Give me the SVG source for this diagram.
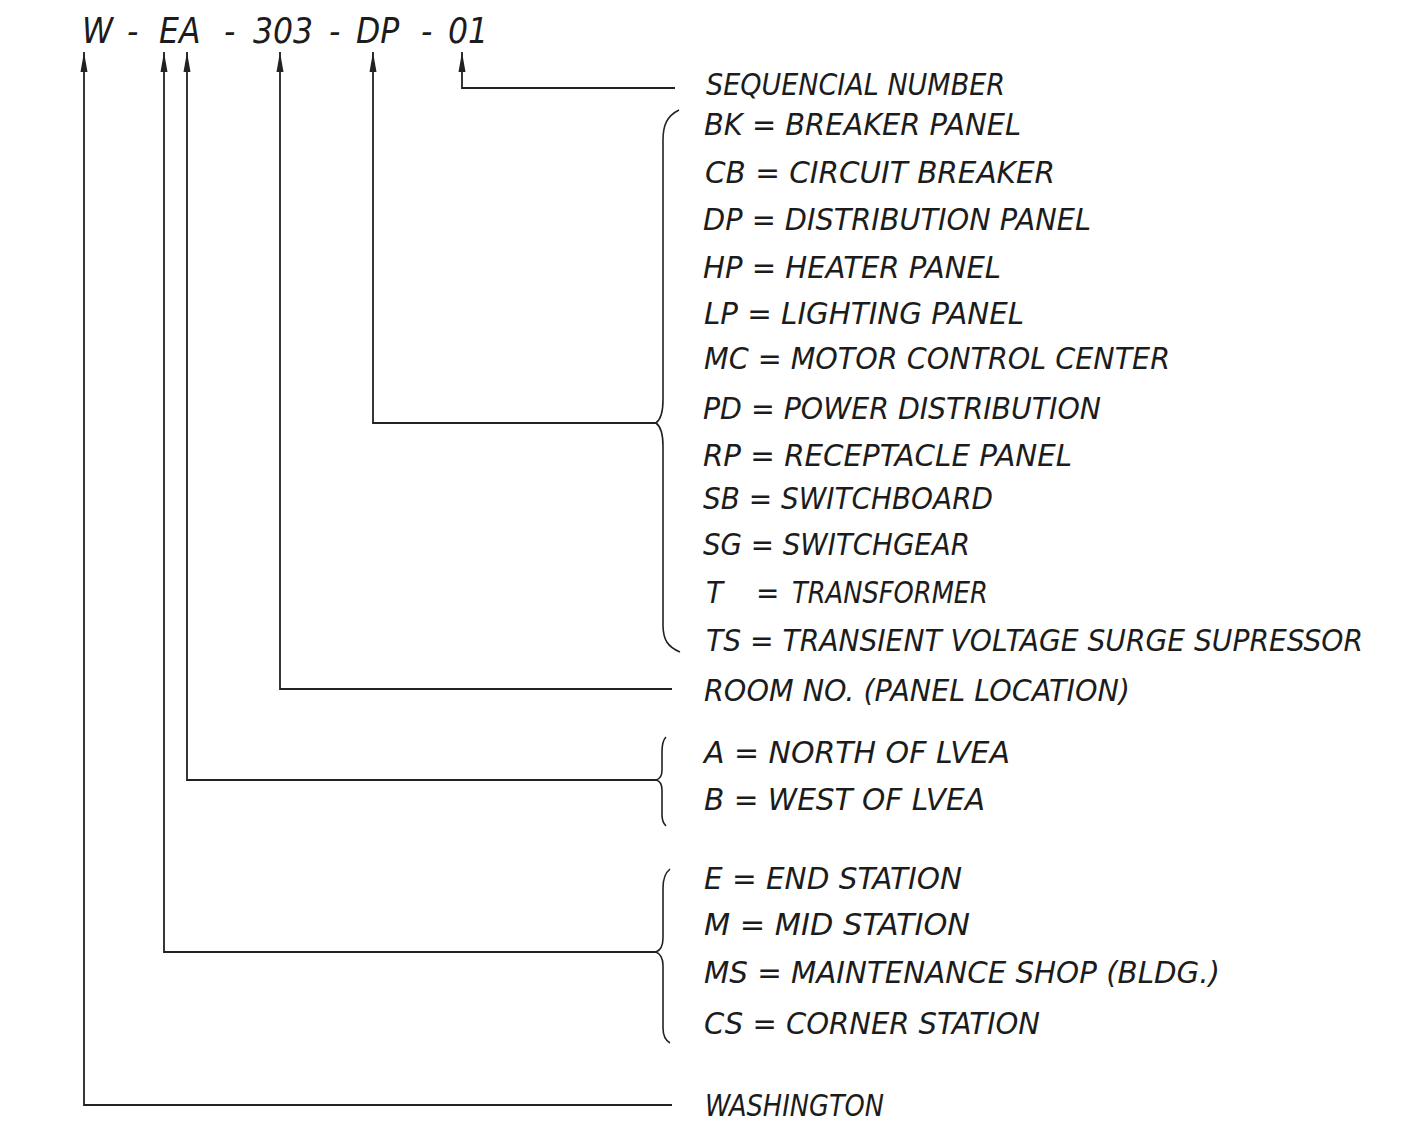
<svg xmlns="http://www.w3.org/2000/svg" width="1406" height="1124" viewBox="0 0 1406 1124">
<style>
text{font-family:"Liberation Sans Narrow","DejaVu Sans Condensed","Liberation Sans",sans-serif;font-style:italic;fill:#1c1c1c}
.lbl{font-size:31px}
.hdr{font-size:35px}
.con{fill:none;stroke:#222;stroke-width:1.8}
.brace{fill:none;stroke:#222;stroke-width:1.6}
</style>
<defs>
<marker id="arr" viewBox="0 0 20 8" refX="20" refY="4" markerWidth="20" markerHeight="8" markerUnits="userSpaceOnUse" orient="auto-start-reverse">
<path d="M0,0.5 L20,4 L0,7.5 z" fill="#222"/>
</marker>
</defs>
<rect width="1406" height="1124" fill="#fff"/>
<g id="header">
<text class="hdr" y="43"><tspan x="82">W</tspan> <tspan x="127">-</tspan> <tspan x="159">EA</tspan> <tspan x="224">-</tspan> <tspan x="253">303</tspan> <tspan x="329">-</tspan> <tspan x="356">DP</tspan> <tspan x="421">-</tspan> <tspan x="448">01</tspan></text>
</g>
<g id="connectors">
<path class="con" marker-start="url(#arr)" d="M84,52 V1105 H672"/>
<path class="con" marker-start="url(#arr)" d="M164,52 V952 H657"/>
<path class="con" marker-start="url(#arr)" d="M187,52 V780 H657"/>
<path class="con" marker-start="url(#arr)" d="M280,52 V689 H672"/>
<path class="con" marker-start="url(#arr)" d="M373,52 V423 H656"/>
<path class="con" marker-start="url(#arr)" d="M462,52 V88 H675"/>
</g>
<g id="braces">
<path class="brace" d="M679,110 C667,116 663,125 663,140 V400 C663,414 660,420 656,423 C660,426 663,432 663,446 V625 C663,640 668,647 680,652"/>
<path class="brace" d="M666,737 C663,740 662,745 662,752 V770 C662,776 660,779 656,780 C660,781 662,784 662,790 V815 C662,820 663,823 666,826"/>
<path class="brace" d="M670,869 C665,873 663,878 663,888 V938 C663,946 661,950 656,952 C661,954 663,958 663,966 V1028 C663,1036 665,1040 670,1043"/>
</g>
<g id="seq"><text class="lbl" x="706" y="95" textLength="299" lengthAdjust="spacingAndGlyphs">SEQUENCIAL NUMBER</text></g>
<g id="type">
<text class="lbl" x="704" y="135" textLength="317" lengthAdjust="spacingAndGlyphs">BK = BREAKER PANEL</text>
<text class="lbl" x="705" y="183" textLength="350" lengthAdjust="spacingAndGlyphs">CB = CIRCUIT BREAKER</text>
<text class="lbl" x="703" y="230" textLength="388" lengthAdjust="spacingAndGlyphs">DP = DISTRIBUTION PANEL</text>
<text class="lbl" x="703" y="278" textLength="298" lengthAdjust="spacingAndGlyphs">HP = HEATER PANEL</text>
<text class="lbl" x="704" y="324" textLength="320" lengthAdjust="spacingAndGlyphs">LP = LIGHTING PANEL</text>
<text class="lbl" x="704" y="369" textLength="466" lengthAdjust="spacingAndGlyphs">MC = MOTOR CONTROL CENTER</text>
<text class="lbl" x="703" y="419" textLength="398" lengthAdjust="spacingAndGlyphs">PD = POWER DISTRIBUTION</text>
<text class="lbl" x="703" y="466" textLength="369" lengthAdjust="spacingAndGlyphs">RP = RECEPTACLE PANEL</text>
<text class="lbl" x="703" y="509" textLength="290" lengthAdjust="spacingAndGlyphs">SB = SWITCHBOARD</text>
<text class="lbl" x="703" y="555" textLength="267" lengthAdjust="spacingAndGlyphs">SG = SWITCHGEAR</text>
<text class="lbl" y="603"><tspan x="706">T</tspan> <tspan x="756">=</tspan> <tspan x="792" textLength="196" lengthAdjust="spacingAndGlyphs">TRANSFORMER</tspan></text>
<text class="lbl" x="706" y="651" textLength="657" lengthAdjust="spacingAndGlyphs">TS = TRANSIENT VOLTAGE SURGE SUPRESSOR</text>
</g>
<g id="room"><text class="lbl" x="704" y="701" textLength="426" lengthAdjust="spacingAndGlyphs">ROOM NO. (PANEL LOCATION)</text></g>
<g id="area">
<text class="lbl" x="704" y="763" textLength="306" lengthAdjust="spacingAndGlyphs">A = NORTH OF LVEA</text>
<text class="lbl" x="704" y="810" textLength="281" lengthAdjust="spacingAndGlyphs">B = WEST OF LVEA</text>
</g>
<g id="station">
<text class="lbl" x="704" y="889" textLength="258" lengthAdjust="spacingAndGlyphs">E = END STATION</text>
<text class="lbl" x="704" y="935" textLength="266" lengthAdjust="spacingAndGlyphs">M = MID STATION</text>
<text class="lbl" x="704" y="983" textLength="516" lengthAdjust="spacingAndGlyphs">MS = MAINTENANCE SHOP (BLDG.)</text>
<text class="lbl" x="704" y="1034" textLength="336" lengthAdjust="spacingAndGlyphs">CS = CORNER STATION</text>
</g>
<g id="site"><text class="lbl" x="705" y="1116" font-size="29" textLength="179" lengthAdjust="spacingAndGlyphs">WASHINGTON</text></g>
</svg>
